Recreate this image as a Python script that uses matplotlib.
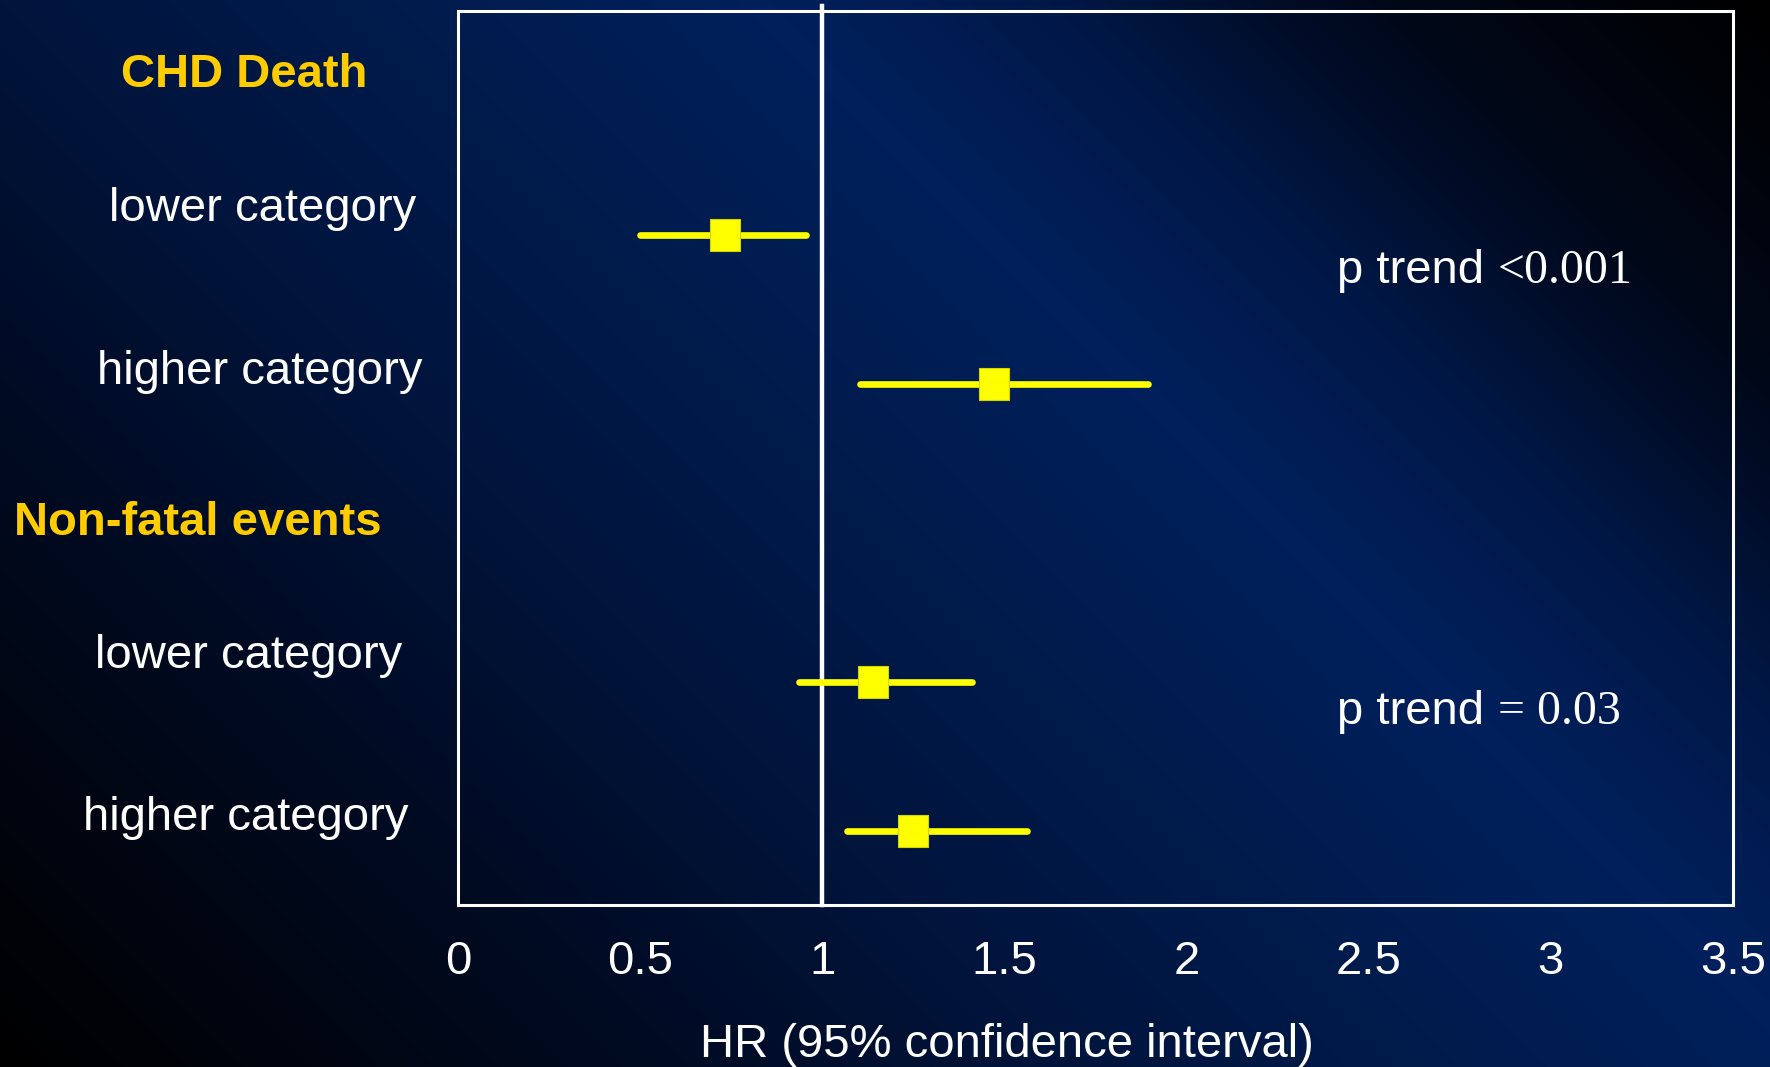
import numpy as np
import matplotlib
matplotlib.use("Agg")
import matplotlib.pyplot as plt
from matplotlib.path import Path
from matplotlib.colors import LinearSegmentedColormap, Normalize
import matplotlib.transforms as mtransforms

# ---------------- data ----------------
groups = ["CHD Death", "Non-fatal events"]
categories = ["lower category", "higher category", "lower category", "higher category"]
category_group = [0, 0, 1, 1]
hr = [0.733, 1.471, 1.139, 1.25]
ci_low = [0.50, 1.104, 0.936, 1.069]
ci_high = [0.955, 1.895, 1.41, 1.562]
p_trend = ["<0.001", "= 0.03"]
xticks = [0, 0.5, 1, 1.5, 2, 2.5, 3, 3.5]
xtick_labels = ["0", "0.5", "1", "1.5", "2", "2.5", "3", "3.5"]
xlabel = "HR (95% confidence interval)"
ref_line = 1.0

# ---------------- layout / style ----------------
plt.rcParams['font.family'] = ['Liberation Sans', 'DejaVu Sans']
W, H = 1770, 1067
FS = 34
YELLOW = '#ffff00'
GOLD = '#ffcc00'

fig = plt.figure(figsize=(W / 100, H / 100), dpi=100)

# background gradient (diagonal band of blue)
bg = fig.add_axes([0, 0, 1, 1], zorder=-10)
yy, xx = np.mgrid[0:H, 0:W]
dist = (yy - xx + 760) / np.sqrt(2)
stops = [(-714, '#000000'), (-430, '#00081a'), (-200, '#001848'), (0, '#00205c'),
         (260, '#001b4c'), (540, '#00143c'), (850, '#000a20'), (1300, '#000000')]
lo_d, hi_d = stops[0][0], stops[-1][0]
cmap = LinearSegmentedColormap.from_list(
    'bg', [((s - lo_d) / (hi_d - lo_d), c) for s, c in stops])
bg.imshow(dist, cmap=cmap, norm=Normalize(lo_d, hi_d), extent=[0, W, H, 0],
          aspect='auto', interpolation='bilinear')
bg.set_xlim(0, W)
bg.set_ylim(H, 0)
bg.axis('off')

# main axes
ax = fig.add_axes([458 / W, 1 - 905 / H, (1733 - 458) / W, (905 - 11) / H])
ax.set_facecolor('none')
for sp in ax.spines.values():
    sp.set_color('white')
    sp.set_linewidth(2.2)
ax.set_xlim(xticks[0], xticks[-1])
ax.set_ylim(5.5, -0.5)
ax.set_yticks([])
ax.set_xticks(xticks, xtick_labels)
ax.tick_params(axis='x', length=0, pad=25, labelsize=FS, labelcolor='white')

# row positions: header at 3*g, rows at 3*g+1, 3*g+2
rows = []
count = {}
for g in category_group:
    k = count.get(g, 0)
    rows.append(3 * g + 1 + k)
    count[g] = k + 1
header_rows = [3 * g for g in range(len(groups))]

# reference line
ax.axvline(ref_line, ymin=0, ymax=1.006, color='white', lw=3.2, zorder=2, clip_on=False)

# CI lines and squares
for y, lo, hi in zip(rows, ci_low, ci_high):
    ax.plot([lo, hi], [y, y], color=YELLOW, lw=4.8, solid_capstyle='round', zorder=3)
sq = Path([(-0.45, -0.5), (0.45, -0.5), (0.45, 0.5), (-0.45, 0.5), (-0.45, -0.5)],
          [Path.MOVETO, Path.LINETO, Path.LINETO, Path.LINETO, Path.CLOSEPOLY])
ax.plot(hr, rows, ls='none', marker=sq, ms=23.7, mfc=YELLOW, mec='#d4d400',
        mew=0.8, zorder=4)

# left labels (x centers in figure pixels, baseline offsets in row units)
trans_lab = mtransforms.blended_transform_factory(fig.transFigure, ax.transData)
header_x = [244, 198]
header_dy = [0.01, 0.015]
for g, name in enumerate(groups):
    ax.text(header_x[g] / W, header_rows[g] + header_dy[g], name, transform=trans_lab,
            ha='center', va='baseline', fontsize=FS, fontweight='bold', color=GOLD,
            clip_on=False)
label_x = [262.7, 260, 249, 246]
label_dy = [-0.092, 0.0, -0.09, 0.0]
for i, (name, y) in enumerate(zip(categories, rows)):
    ax.text(label_x[i] / W, y + label_dy[i], name, transform=trans_lab, ha='center',
            va='baseline', fontsize=FS, color='white', clip_on=False)

# p trend annotations
p_dy = [-0.177, -0.215]
for g, p in enumerate(p_trend):
    yb = 3 * g + 1.5 + p_dy[g]
    t1 = ax.text(2.413, yb, "p trend", ha='left', va='baseline', fontsize=FS,
                 color='white')
    ax.annotate(p, xy=(1, yb), xycoords=(t1, 'data'), xytext=(10, 0),
                textcoords='offset points', ha='left', va='baseline',
                fontsize=FS + 0.5, family=['Liberation Serif', 'DejaVu Serif'],
                color='white')

fig.text(1007 / W, 10 / H, xlabel, ha='center', va='baseline', fontsize=FS,
         color='white')

fig.savefig('out.png', dpi=100)
